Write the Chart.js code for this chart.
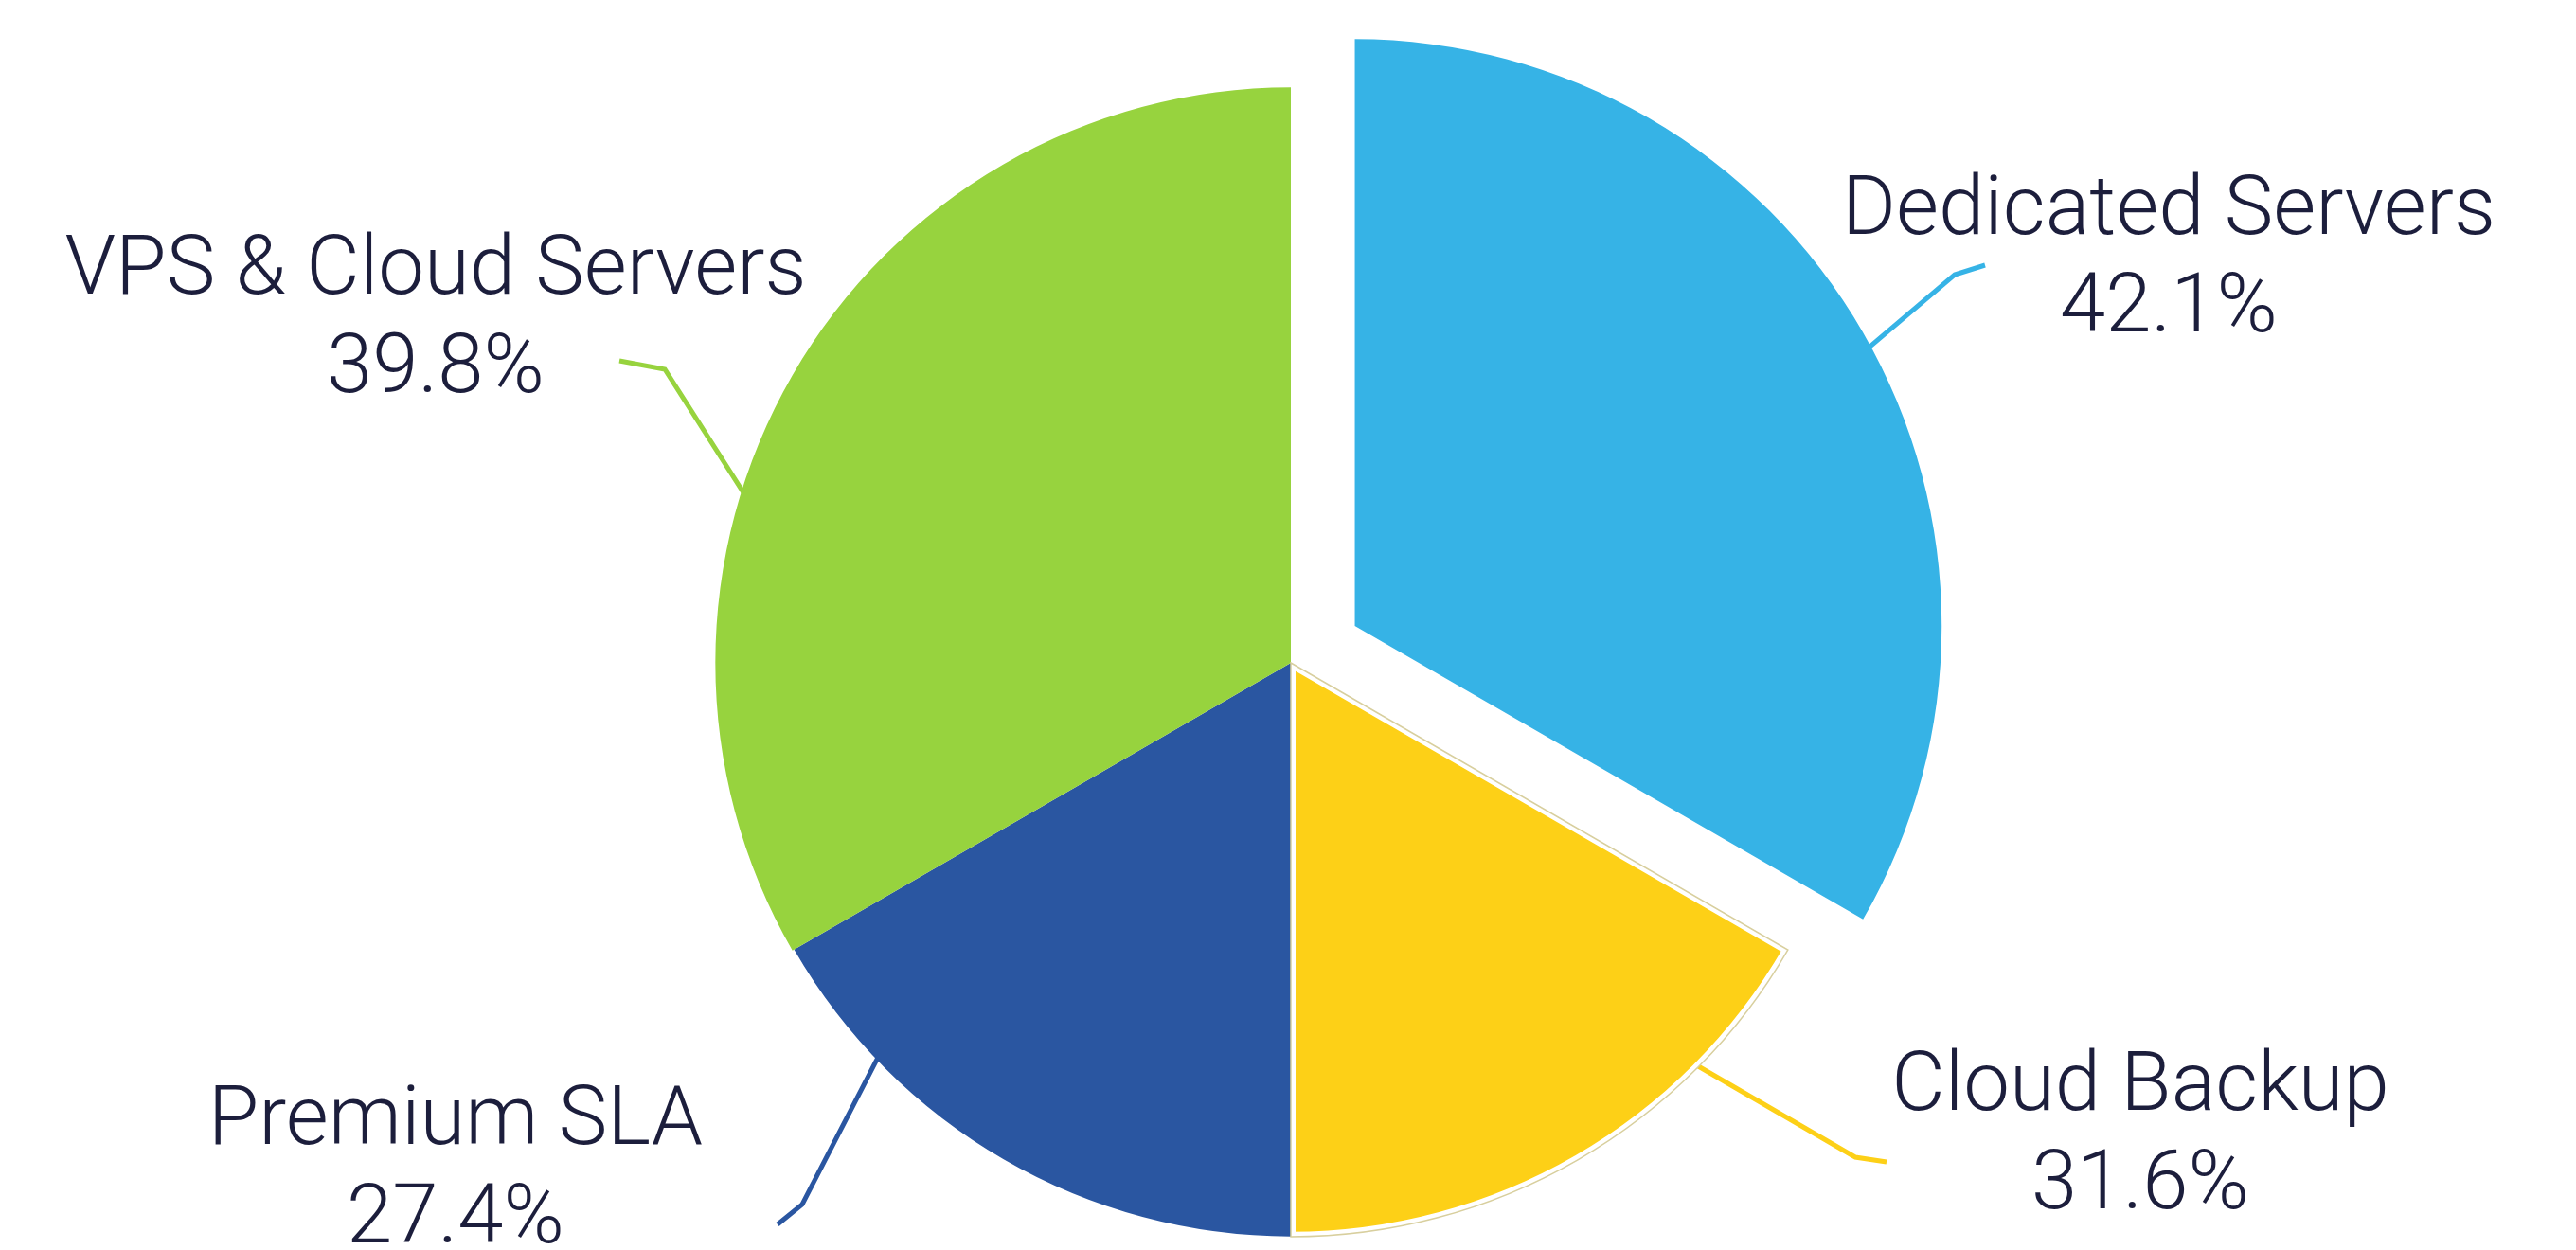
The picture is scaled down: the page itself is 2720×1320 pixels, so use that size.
<!DOCTYPE html>
<html>
<head>
<meta charset="utf-8">
<script src="https://cdn.jsdelivr.net/npm/chart.js@4.4.0/dist/chart.umd.min.js"></script>
<style>
  html, body { margin: 0; padding: 0; background: #fff; }
  #pie { display: block; }
</style>
</head>
<body>
<canvas id="pie" width="2720" height="1320"></canvas>
<script>
const categories = ['Dedicated Servers', 'Cloud Backup', 'Premium SLA', 'VPS & Cloud Servers'];
// size of each slice as drawn, in degrees of the circle
const sliceDegrees = [120, 60, 60, 120];
// the percentages printed in the labels
const shares = [42.1, 31.6, 27.4, 39.8];

const colors = ['#36b3e6', '#fdd017', '#2a56a1', '#97d33e'];
const radii = [620, 606, 606, 608];
const explode = [78, 0, 0, 0];
const textColor = '#1c1e3c';

// leader line: angle where it leaves the slice (deg clockwise from top), bend, end
const leaders = [
  { angle: 61.5, bend: [2064, 290], end: [2096, 280] },
  { angle: 134.7, bend: [1959, 1222], end: [1992, 1227] },
  { angle: 226.2, bend: [847, 1272], end: [821, 1293] },
  { angle: 287.5, bend: [702, 390], end: [654, 381] }
];
// label block: centre x, baseline of name, baseline of percentage
const labelPos = [
  { x: 2290, y1: 247, y2: 350 },
  { x: 2260, y1: 1172, y2: 1276 },
  { x: 481, y1: 1208, y2: 1312 },
  { x: 460, y1: 310, y2: 414 }
];

const shapeSlices = {
  id: 'shapeSlices',
  afterDatasetUpdate(chart, args) {
    args.meta.data.forEach((arc, i) => {
      const mid = (arc.startAngle + arc.endAngle) / 2;
      arc.x += Math.cos(mid) * explode[i];
      arc.y += Math.sin(mid) * explode[i];
      arc.outerRadius = radii[i];
    });
  }
};

const leaderLines = {
  id: 'leaderLines',
  beforeDatasetsDraw(chart) {
    const ctx = chart.ctx;
    const arcs = chart.getDatasetMeta(0).data;
    leaders.forEach((l, i) => {
      const arc = arcs[i];
      const a = (l.angle - 90) * Math.PI / 180;
      const ex = arc.x + Math.cos(a) * arc.outerRadius;
      const ey = arc.y + Math.sin(a) * arc.outerRadius;
      const dx = l.bend[0] - ex, dy = l.bend[1] - ey;
      const len = Math.hypot(dx, dy);
      ctx.save();
      ctx.beginPath();
      ctx.moveTo(ex - dx / len * 20, ey - dy / len * 20);
      ctx.lineTo(l.bend[0], l.bend[1]);
      ctx.lineTo(l.end[0], l.end[1]);
      ctx.lineWidth = 5;
      ctx.lineJoin = 'miter';
      ctx.strokeStyle = colors[i];
      ctx.stroke();
      ctx.restore();
    });
  },
  afterDatasetsDraw(chart) {
    // thin outline round the highlighted Cloud Backup slice
    const ctx = chart.ctx;
    const arc = chart.getDatasetMeta(0).data[1];
    ctx.save();
    ctx.beginPath();
    ctx.moveTo(arc.x, arc.y);
    ctx.arc(arc.x, arc.y, arc.outerRadius, arc.startAngle, arc.endAngle);
    ctx.closePath();
    ctx.lineWidth = 1.5;
    ctx.strokeStyle = '#d8cf9e';
    ctx.stroke();
    ctx.restore();
  }
};

const sliceLabels = {
  id: 'sliceLabels',
  afterDraw(chart) {
    const ctx = chart.ctx;
    ctx.save();
    ctx.fillStyle = textColor;
    ctx.font = '300 87px "Roboto Light", Roboto';
    ctx.textAlign = 'center';
    ctx.textBaseline = 'alphabetic';
    categories.forEach((name, i) => {
      const p = labelPos[i];
      ctx.fillText(name, p.x, p.y1);
      ctx.fillText(shares[i].toFixed(1) + '%', p.x, p.y2);
    });
    ctx.restore();
  }
};

new Chart(document.getElementById('pie'), {
  type: 'pie',
  data: {
    labels: categories,
    datasets: [{
      data: sliceDegrees,
      backgroundColor: colors,
      borderColor: '#ffffff',
      borderWidth: [0, 5, 0, 0],
      borderAlign: 'inner',
      radius: 610
    }]
  },
  options: {
    responsive: false,
    animation: false,
    events: [],
    layout: { padding: { left: 6, top: 80 } },
    plugins: {
      legend: { display: false },
      tooltip: { enabled: false }
    }
  },
  plugins: [shapeSlices, leaderLines, sliceLabels]
});
</script>
</body>
</html>
